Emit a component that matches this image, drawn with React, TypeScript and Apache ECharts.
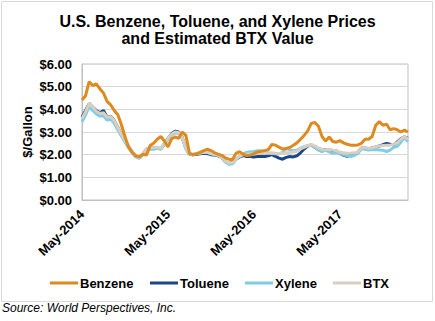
import React, { useEffect, useRef } from "react";
import * as echarts from "echarts";

// Semi-monthly observations starting May 2014 ($/gallon)
const benzene = [
  4.41, 4.6, 5.22, 5.05, 5.12, 4.9, 4.72, 4.35, 4.2, 3.95, 3.76, 3.32, 2.79, 2.33, 2.1, 1.95,
  1.9, 2.02, 1.98, 2.4, 2.5, 2.68, 2.8, 2.6, 2.34, 2.7, 2.78, 2.72, 3.0, 2.85, 2.06, 2.0,
  2.04, 2.1, 2.18, 2.24, 2.18, 2.08, 2.02, 1.97, 1.86, 1.8, 1.78, 2.06, 2.13, 2.02, 1.96, 1.98,
  2.05, 2.12, 2.15, 2.18, 2.22, 2.45, 2.42, 2.33, 2.25, 2.27, 2.32, 2.42, 2.52, 2.68, 2.85, 3.05,
  3.38, 3.42, 3.25, 2.8, 2.6, 2.78, 2.58, 2.55, 2.62, 2.52, 2.46, 2.42, 2.42, 2.43, 2.5, 2.68,
  2.68, 2.8, 3.3, 3.46, 3.3, 3.35, 3.1, 3.15, 3.1, 3.0, 3.08, 3.0,
];
const toluene = [
  3.65, 3.95, 4.25, 4.1, 3.95, 3.85, 3.95, 3.65, 3.7, 3.5, 3.2, 2.9, 2.64, 2.36, 2.12, 1.93,
  1.86, 2.02, 2.24, 2.3, 2.28, 2.3, 2.26, 2.48, 2.72, 2.92, 3.03, 3.0, 2.75, 2.28, 2.02, 2.0,
  2.02, 2.04, 2.06, 2.05, 2.0, 1.98, 1.95, 1.88, 1.7, 1.62, 1.64, 1.8, 1.9, 1.96, 1.92, 1.92,
  1.9, 1.92, 1.93, 1.92, 1.95, 2.0, 1.92, 1.85, 1.8, 1.88, 1.92, 1.9, 1.95, 2.08, 2.25, 2.38,
  2.42, 2.33, 2.22, 2.2, 2.23, 2.15, 2.18, 2.16, 2.06, 1.98, 1.93, 1.98, 2.03, 2.1, 2.3, 2.28,
  2.24, 2.3, 2.34, 2.38, 2.44, 2.5, 2.46, 2.44, 2.55, 2.7, 2.79, 2.72,
];
const xylene = [
  3.45, 3.75, 4.12, 3.95, 3.8, 3.7, 3.72, 3.52, 3.58, 3.38, 3.1, 2.82, 2.56, 2.3, 2.08, 1.9,
  1.84, 2.0, 2.2, 2.25, 2.24, 2.28, 2.24, 2.45, 2.68, 2.86, 2.96, 2.94, 2.7, 2.28, 2.02, 2.0,
  2.05, 2.07, 2.1, 2.1, 2.04, 2.0, 1.96, 1.87, 1.68, 1.58, 1.6, 1.8, 1.94, 2.04, 2.1, 2.13,
  2.14, 2.17, 2.16, 2.1, 2.06, 2.05, 2.04, 2.03, 2.1, 2.28, 2.22, 2.17, 2.2, 2.28, 2.35, 2.4,
  2.42, 2.33, 2.2, 2.13, 2.2, 2.12, 2.06, 2.09, 2.04, 2.0, 1.95, 1.92, 1.97, 2.05, 2.26, 2.24,
  2.2, 2.22, 2.23, 2.21, 2.2, 2.14, 2.2, 2.32, 2.37, 2.55, 2.76, 2.57,
];
const btx = [
  3.6, 3.9, 4.25, 4.1, 3.92, 3.82, 3.85, 3.65, 3.68, 3.5, 3.2, 2.9, 2.64, 2.38, 2.15, 1.95,
  1.88, 2.04, 2.25, 2.32, 2.3, 2.32, 2.28, 2.5, 2.72, 2.9, 3.0, 2.98, 2.75, 2.3, 2.04, 2.02,
  2.05, 2.07, 2.1, 2.1, 2.05, 2.02, 1.98, 1.9, 1.72, 1.64, 1.65, 1.82, 1.92, 2.0, 2.02, 2.03,
  2.04, 2.05, 2.06, 2.06, 2.07, 2.08, 2.06, 2.05, 2.06, 2.08, 2.1, 2.12, 2.15, 2.25, 2.32, 2.4,
  2.45, 2.38, 2.3, 2.23, 2.22, 2.24, 2.2, 2.17, 2.12, 2.08, 2.06, 2.06, 2.08, 2.12, 2.3, 2.33,
  2.28, 2.3, 2.35, 2.38, 2.4, 2.42, 2.42, 2.46, 2.52, 2.68, 2.8, 2.68,
];

const MONTH_NAMES = ["Jan", "Feb", "Mar", "Apr", "May", "Jun", "Jul", "Aug", "Sep", "Oct", "Nov", "Dec"];
const START_YEAR = 2014;
const START_MONTH = 4; // May
const categories = benzene.map((_, i) => {
  const m = START_MONTH + Math.floor(i / 2);
  const y = START_YEAR + Math.floor(m / 12);
  return `${MONTH_NAMES[m % 12]}-${y}` + (i % 2 ? " (mid)" : "");
});

const yTicks = [0, 1, 2, 3, 4, 5, 6];
const legendOrder = ["Benzene", "Toluene", "Xylene", "BTX"];
const titleText = "U.S. Benzene, Toluene, and Xylene Prices\nand Estimated BTX Value";
const yAxisTitle = "$/Gallon";
const sourceText = "Source: World Perspectives, Inc.";

const COLORS: Record<string, string> = {
  Benzene: "#DE8A1F",
  Toluene: "#1B4585",
  Xylene: "#7DCDE6",
  BTX: "#D8CFC0",
};

const FONT = "'Liberation Sans', Arial, Helvetica, sans-serif";

// Legend layout (manual, to match the original spacing)
const LEGEND_X = [50, 150, 245, 333];
const LEGEND_Y = 283;
const LEGEND_SWATCH = 28;

export default function App() {
  const ref = useRef<HTMLDivElement>(null);
  useEffect(() => {
    if (!ref.current) return;
    const chart = echarts.init(ref.current, undefined, { renderer: "svg" });
    const mkSeries = (name: string, data: number[]) => ({
      name,
      type: "line",
      data,
      showSymbol: false,
      symbol: "none",
      lineStyle: { width: 3, color: COLORS[name] },
      itemStyle: { color: COLORS[name] },
    });
    const legendGraphics: any[] = [];
    legendOrder.forEach((name, i) => {
      const x = LEGEND_X[i];
      legendGraphics.push({
        type: "rect",
        shape: { x, y: LEGEND_Y - 1.5, width: LEGEND_SWATCH, height: 3 },
        style: { fill: COLORS[name] },
        silent: true,
      });
      legendGraphics.push({
        type: "text",
        x: x + LEGEND_SWATCH + 2,
        y: LEGEND_Y,
        style: {
          text: name,
          font: `bold 13px ${FONT}`,
          fill: "#000",
          verticalAlign: "middle",
          align: "left",
        },
      });
    });
    chart.setOption({
      animation: false,
      textStyle: { fontFamily: FONT },
      title: {
        text: titleText,
        left: "center",
        top: 13,
        padding: 0,
        textStyle: { fontSize: 16, fontWeight: "bold", color: "#000", lineHeight: 17, fontFamily: FONT },
      },
      graphic: [
        {
          type: "rect",
          shape: { x: 1.5, y: 1.5, width: 431, height: 300 },
          style: { fill: "none", stroke: "#D9D9D9", lineWidth: 1 },
          silent: true,
        },
        {
          type: "text",
          x: 27,
          y: 132,
          rotation: Math.PI / 2,
          style: {
            text: yAxisTitle,
            font: `bold 13px ${FONT}`,
            fill: "#000",
            align: "center",
            verticalAlign: "middle",
          },
        },
        {
          type: "text",
          left: 2,
          top: 302,
          style: { text: sourceText, font: `italic 12px ${FONT}`, fill: "#000" },
        },
        ...legendGraphics,
      ],
      legend: { show: false, data: legendOrder },
      grid: { left: 82, right: 27, top: 64, bottom: 121, show: true, borderColor: "#BFBFBF", borderWidth: 1 },
      xAxis: {
        type: "category",
        data: categories,
        boundaryGap: false,
        axisLine: { lineStyle: { color: "#BFBFBF" } },
        axisTick: { show: false },
        axisLabel: {
          interval: (i: number) => i % 24 === 0,
          rotate: 45,
          fontSize: 13,
          fontWeight: "bold",
          color: "#000",
          margin: 12,
          fontFamily: FONT,
          formatter: (v: string) => v.replace(" (mid)", ""),
        },
        splitLine: { show: false },
      },
      yAxis: {
        type: "value",
        min: yTicks[0],
        max: yTicks[yTicks.length - 1],
        interval: 1,
        axisLine: { show: true, lineStyle: { color: "#BFBFBF" } },
        axisTick: { show: false },
        axisLabel: {
          fontSize: 13,
          fontWeight: "bold",
          color: "#000",
          margin: 10,
          fontFamily: FONT,
          formatter: (v: number) => "$" + v.toFixed(2),
        },
        splitLine: { lineStyle: { color: "#D9D9D9" } },
      },
      series: [
        mkSeries("Toluene", toluene),
        mkSeries("Xylene", xylene),
        mkSeries("BTX", btx),
        mkSeries("Benzene", benzene),
      ],
    });
    return () => chart.dispose();
  }, []);
  return (
    <div
      ref={ref}
      style={{ position: "fixed", left: 0, top: 0, width: 435, height: 321, background: "#fff" }}
    />
  );
}
